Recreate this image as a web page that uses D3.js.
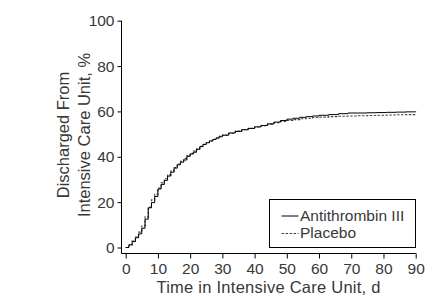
<!DOCTYPE html>
<html>
<head>
<meta charset="utf-8">
<script src="https://cdn.jsdelivr.net/npm/d3@7"></script>
<style>
  html, body { margin: 0; padding: 0; background: #fff; }
  svg { display: block; }
  text { font-family: "Liberation Sans", Arial, Helvetica, sans-serif; fill: #383838; }
</style>
</head>
<body>
<svg id="chart" width="434" height="297"></svg>
<script>
// ---- data ----
const days = [0,1,2,3,4,5,6,7,8,9,10,11,12,13,14,15,16,17,18,19,20,21,22,23,24,25,26,27,28,29,30,
  32,34,36,38,40,42,44,46,48,50,52,54,56,58,60,63,66,69,72,75,78,81,84,87,90];
const antithrombin = [0,1.2,2.6,4.3,6.0,8.5,12.5,17.5,19.8,22.5,25.8,27.8,29.6,31.5,33.2,35.0,36.5,37.6,38.6,40.2,41.2,42.0,43.3,44.5,45.4,46.2,47.0,47.6,48.2,48.8,49.5,
  50.5,51.2,51.9,52.5,53.2,53.8,54.5,55.3,56.0,56.6,57.0,57.4,57.7,58.0,58.3,58.6,59.0,59.3,59.3,59.4,59.5,59.6,59.7,59.8,60.0];
const placebo = [0,1.0,2.8,4.6,6.8,9.5,13.5,17.8,21.0,23.5,26.2,28.5,30.3,32.0,33.8,35.3,36.8,38.0,39.3,40.5,41.5,42.5,43.5,44.6,45.5,46.3,47.0,47.7,48.4,49.0,49.6,
  50.4,51.3,52.0,52.6,53.1,53.7,54.4,55.0,55.6,56.0,56.4,56.8,57.0,57.3,57.5,57.7,57.9,58.0,58.1,58.2,58.3,58.4,58.5,58.6,58.6];
const seriesNames = ["Antithrombin III", "Placebo"];
const xTicks = [0,10,20,30,40,50,60,70,80,90];
const yTicks = [0,20,40,60,80,100];
const xTitle = "Time in Intensive Care Unit, d";
const yTitleLines = ["Discharged From", "Intensive Care Unit, %"];

// ---- drawing ----
const svg = d3.select("#chart");
const x = d3.scaleLinear().domain([0, 90]).range([125.7, 415.7]);
const y = d3.scaleLinear().domain([0, 100]).range([247.5, 20.7]);

const axisX0 = 121.5, axisY0 = 253.5;

// axis lines
svg.append("line").attr("x1", axisX0).attr("x2", axisX0).attr("y1", y(100)).attr("y2", axisY0)
  .attr("stroke", "#000").attr("stroke-width", 1);
svg.append("line").attr("x1", axisX0).attr("x2", x(90)).attr("y1", axisY0).attr("y2", axisY0)
  .attr("stroke", "#000").attr("stroke-width", 1);

const gx = svg.append("g").attr("transform", `translate(0,${axisY0})`)
  .call(d3.axisBottom(x).tickValues(xTicks).tickSize(5).tickPadding(4.5).tickFormat(d3.format("d")));
gx.select(".domain").remove();
gx.selectAll("line").attr("stroke", "#000");
gx.selectAll("text").style("font-size", "15.5px").attr("fill", "#383838");
gx.attr("font-family", null);

const gy = svg.append("g").attr("transform", `translate(${axisX0},0)`)
  .call(d3.axisLeft(y).tickValues(yTicks).tickSize(4).tickPadding(3).tickFormat(d3.format("d")));
gy.select(".domain").remove();
gy.selectAll("line").attr("stroke", "#000");
gy.selectAll("text").style("font-size", "15.5px").attr("fill", "#383838");
gy.attr("font-family", null);

// titles
svg.append("text").attr("x", (axisX0 + x(90)) / 2).attr("y", 293)
  .attr("text-anchor", "middle").style("font-size", "16.5px").style("letter-spacing", "0.25px").text(xTitle);

const yt = svg.append("g").attr("transform", "translate(0,135) rotate(-90)");
yt.append("text").attr("x", 0).attr("y", 69).attr("text-anchor", "middle")
  .style("font-size", "16.5px").text(yTitleLines[0]);
yt.append("text").attr("x", 0).attr("y", 89.5).attr("text-anchor", "middle")
  .style("font-size", "16.5px").text(yTitleLines[1]);

// curves
const line = d3.line().x(d => x(d[0])).y(d => y(d[1])).curve(d3.curveStepAfter);
const dataA = days.map((d, i) => [d, antithrombin[i]]);
const dataP = days.map((d, i) => [d, placebo[i]]);

svg.append("path").datum(dataP).attr("d", line)
  .attr("fill", "none").attr("stroke", "#444").attr("stroke-width", 1.1)
  .attr("stroke-dasharray", "2.5,1.5");
svg.append("path").datum(dataA).attr("d", line)
  .attr("fill", "none").attr("stroke", "#000").attr("stroke-width", 1);

// legend
const lg = svg.append("g");
lg.append("rect").attr("x", 269.5).attr("y", 199.5).attr("width", 146).attr("height", 48)
  .attr("fill", "#fff").attr("stroke", "#000").attr("stroke-width", 1);
lg.append("line").attr("x1", 281.5).attr("x2", 298.5).attr("y1", 216).attr("y2", 216)
  .attr("stroke", "#000").attr("stroke-width", 1);
lg.append("line").attr("x1", 281.5).attr("x2", 298.5).attr("y1", 233.5).attr("y2", 233.5)
  .attr("stroke", "#444").attr("stroke-width", 1.1).attr("stroke-dasharray", "2.5,1.5");
lg.append("text").attr("x", 300).attr("y", 220.7).style("font-size", "15.5px").text(seriesNames[0]);
lg.append("text").attr("x", 300).attr("y", 238).style("font-size", "15.5px").text(seriesNames[1]);
</script>
</body>
</html>
